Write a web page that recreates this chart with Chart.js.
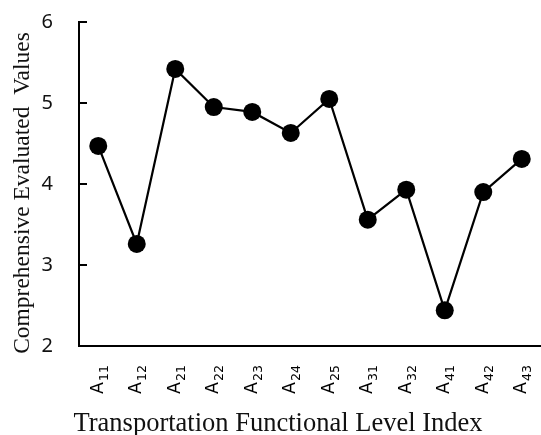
<!DOCTYPE html>
<html>
<head>
<meta charset="utf-8">
<script src="https://cdn.jsdelivr.net/npm/chart.js@4"></script>
<style>
  html, body { margin: 0; padding: 0; background: #fff; }
  #wrap { width: 541px; height: 435px; }
</style>
</head>
<body>
<div id="wrap"><canvas id="chart"></canvas></div>
<script>
const indexLabels = ['A11', 'A12', 'A21', 'A22', 'A23', 'A24', 'A25', 'A31', 'A32', 'A41', 'A42', 'A43'];
const evaluatedValues = [4.47, 3.26, 5.42, 4.95, 4.89, 4.63, 5.05, 3.56, 3.93, 2.44, 3.90, 4.31];
const yTicks = [2, 3, 4, 5, 6];
const xTitle = 'Transportation Functional Level Index';
const yTitle = 'Comprehensive Evaluated  Values';

// Excel-style inside tick marks on the value axis
const insideTicks = {
    id: 'insideTicks',
    afterDraw(chart) {
        const ctx = chart.ctx;
        const y = chart.scales.y;
        ctx.save();
        ctx.strokeStyle = '#000';
        ctx.lineWidth = 2;
        yTicks.forEach(v => {
            const py = Math.round(y.getPixelForValue(v));
            ctx.beginPath();
            ctx.moveTo(y.right, py);
            ctx.lineTo(y.right + 8, py);
            ctx.stroke();
        });
        ctx.restore();
    }
};

// rotated category labels with a subscript index, e.g. A + "11"
const subscriptLabels = {
    id: 'subscriptLabels',
    afterDraw(chart) {
        const ctx = chart.ctx;
        const x = chart.scales.x;
        const top = x.top + 19;
        ctx.save();
        ctx.fillStyle = '#000';
        indexLabels.forEach((label, i) => {
            const px = x.getPixelForValue(i);
            const base = label.charAt(0);
            const sub = label.slice(1);
            ctx.save();
            ctx.translate(px, top);
            ctx.rotate(-Math.PI / 2);
            ctx.textAlign = 'right';
            ctx.textBaseline = 'middle';
            ctx.font = '12.5px "DejaVu Sans"';
            const subWidth = ctx.measureText(sub).width;
            ctx.fillText(sub, 0, 6);
            ctx.font = '17.5px "DejaVu Sans"';
            ctx.fillText(base, -subWidth - 1, 0);
            ctx.restore();
        });
        ctx.restore();
    }
};

// axis titles, placed where the original figure has them
const axisTitles = {
    id: 'axisTitles',
    afterDraw(chart) {
        const ctx = chart.ctx;
        ctx.save();
        ctx.fillStyle = '#111';
        ctx.textAlign = 'center';
        ctx.textBaseline = 'alphabetic';
        ctx.font = '26.5px "Liberation Serif"';
        ctx.fillText(xTitle, 278, 431);
        ctx.translate(29, 193);
        ctx.rotate(-Math.PI / 2);
        ctx.font = '23.5px "Liberation Serif"';
        ctx.fillText(yTitle, 0, 0);
        ctx.restore();
    }
};

const ctx = document.getElementById('chart').getContext('2d');
new Chart(ctx, {
    type: 'line',
    data: {
        labels: indexLabels,
        datasets: [{
            data: evaluatedValues,
            borderColor: '#000',
            borderWidth: 2.2,
            backgroundColor: '#000',
            pointRadius: 9,
            pointBorderWidth: 0,
            tension: 0,
            clip: false
        }]
    },
    options: {
        responsive: true,
        maintainAspectRatio: false,
        animation: false,
        layout: { autoPadding: false, padding: { top: 22, right: 0, bottom: 0, left: 0 } },
        plugins: {
            legend: { display: false },
            tooltip: { enabled: false }
        },
        scales: {
            x: {
                offset: true,
                grid: { display: false, drawTicks: false },
                border: { display: true, color: '#000', width: 2 },
                ticks: { display: false },
                afterFit(scale) {
                    scale.height = 89;
                    scale.paddingLeft = 0;
                    scale.paddingRight = 0;
                }
            },
            y: {
                min: 2,
                max: 6,
                grid: { display: false, drawTicks: false },
                border: { display: true, color: '#000', width: 2 },
                ticks: {
                    stepSize: 1,
                    color: '#111',
                    padding: 26,
                    font: { family: 'Noto Sans', size: 20 }
                },
                afterFit(scale) {
                    scale.width = 79;
                    scale.paddingTop = 0;
                    scale.paddingBottom = 0;
                }
            }
        }
    },
    plugins: [insideTicks, subscriptLabels, axisTitles]
});
</script>
</body>
</html>
